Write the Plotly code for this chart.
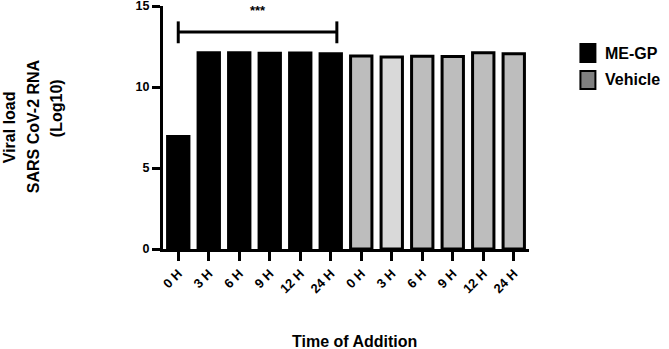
import plotly.graph_objects as go

time_labels = ["0 H", "3 H", "6 H", "9 H", "12 H", "24 H"]
megp_values = [6.95, 12.12, 12.12, 12.08, 12.1, 12.05]
vehicle_values = [11.92, 11.85, 11.9, 11.88, 12.12, 12.05]
group_names = ["ME-GP", "Vehicle"]
vehicle_fills = ["#bdbdbd", "#d9d9d9", "#bdbdbd", "#bdbdbd", "#bdbdbd", "#bdbdbd"]
y_ticks = [0, 5, 10, 15]
bracket_y = 13.4
bracket_cap = (12.7, 14.05)
bracket_x = (0, 5.2)
sig_text = "***"

n = len(time_labels)
x_megp = list(range(n))
x_veh = list(range(n, 2 * n))

FONT = "Liberation Sans, Arial, sans-serif"
bw = 0.7
L, R, T, B = 163, 139.5, 6, 100
PW, PH = 669 - L - R, 349 - T - B


def px_x(px):
    return (px - L) / PW


def px_y(py):
    return (349 - B - py) / PH


fig = go.Figure()
fig.add_trace(go.Bar(x=x_megp, y=megp_values, width=bw, name=group_names[0],
                     marker=dict(color="black", line=dict(color="black", width=3)),
                     showlegend=False))
fig.add_trace(go.Bar(x=x_veh, y=vehicle_values, width=bw, name=group_names[1],
                     marker=dict(color=vehicle_fills, line=dict(color="black", width=3)),
                     showlegend=False))

# significance bracket
fig.add_shape(type="line", x0=bracket_x[0], x1=bracket_x[1], y0=bracket_y, y1=bracket_y,
              line=dict(color="black", width=3))
for bx in bracket_x:
    fig.add_shape(type="line", x0=bx, x1=bx, y0=bracket_cap[0], y1=bracket_cap[1],
                  line=dict(color="black", width=3))
fig.add_annotation(x=(bracket_x[0] + bracket_x[1]) / 2, y=14.75, text=sig_text,
                   showarrow=False, font=dict(family=FONT, size=13, color="black", weight="bold"))

# manual legend
leg_items = [(group_names[0], "black"), (group_names[1], "#808080")]
for i, (nm, col) in enumerate(leg_items):
    top = 44 + i * 27
    fig.add_shape(type="rect", xref="paper", yref="paper",
                  x0=px_x(581), x1=px_x(596), y0=px_y(top + 18), y1=px_y(top),
                  fillcolor=col, line=dict(color="black", width=2))
    fig.add_annotation(xref="paper", yref="paper", x=px_x(604), y=px_y(top + 9),
                       text=nm, xanchor="left", yanchor="middle", showarrow=False,
                       font=dict(family=FONT, size=16, color="black", weight="bold"))

# y-axis title lines
ytitle_lines = ["Viral load", "SARS CoV-2 RNA", "(Log10)"]
ytitle_x = [10, 33, 56]
ytitle_y = [127, 126, 108]
for txt, px, py in zip(ytitle_lines, ytitle_x, ytitle_y):
    fig.add_annotation(xref="paper", yref="paper", x=px_x(px), y=px_y(py),
                       text=txt, textangle=-90, showarrow=False, xanchor="center", yanchor="middle",
                       font=dict(family=FONT, size=16, color="black", weight="bold"))

# x-axis title
fig.add_annotation(xref="paper", yref="paper", x=px_x(355), y=px_y(341),
                   text="Time of Addition", showarrow=False, xanchor="center", yanchor="middle",
                   font=dict(family=FONT, size=16, color="black", weight="bold"))

fig.update_layout(
    width=669, height=349,
    margin=dict(l=L, r=R, t=T, b=B),
    paper_bgcolor="white", plot_bgcolor="white",
    xaxis=dict(range=[-0.5, 2 * n - 0.5], tickmode="array", tickvals=x_megp + x_veh,
               ticktext=time_labels + time_labels, tickangle=-45, automargin=False,
               ticks="outside", ticklen=9, tickwidth=3, tickcolor="black",
               showline=True, linecolor="black", linewidth=3, showgrid=False, zeroline=False,
               tickfont=dict(family=FONT, size=13, color="black", weight="bold")),
    yaxis=dict(range=[0, 15], tickvals=y_ticks, ticks="outside", ticklen=8, tickwidth=3,
               tickcolor="black", showline=True, linecolor="black", linewidth=3,
               showgrid=False, zeroline=False, automargin=False, ticklabeloverflow="allow",
               tickfont=dict(family=FONT, size=12.5, color="black", weight="bold")),
)
fig.write_html("out.html", config={"displayModeBar": False},
               post_script="document.body.style.margin='0';document.body.style.overflow='hidden';")
